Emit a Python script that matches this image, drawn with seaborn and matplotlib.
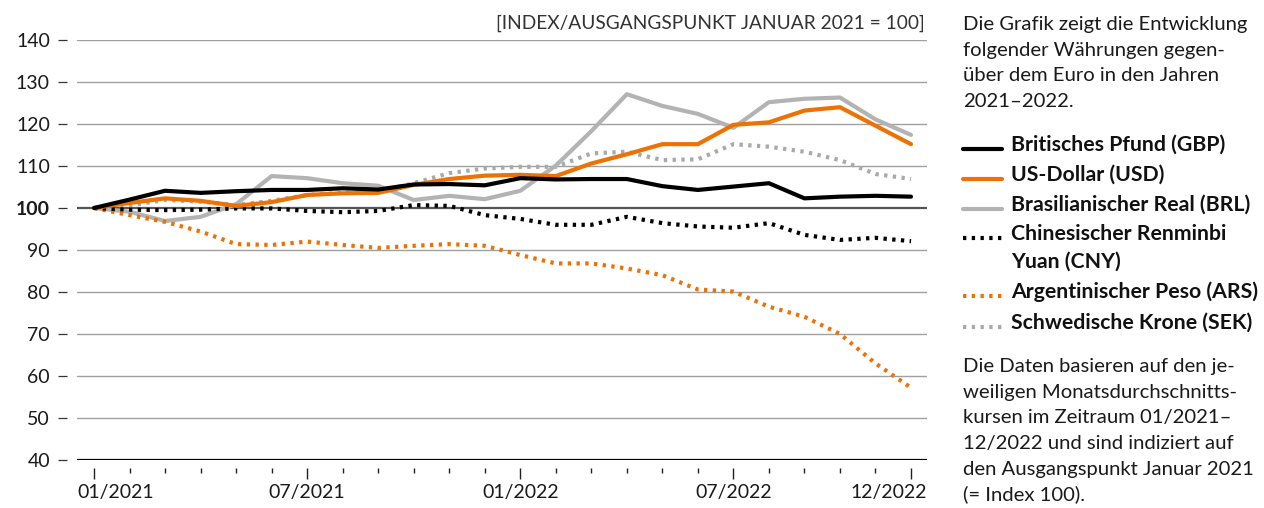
import numpy as np
import pandas as pd
import matplotlib
matplotlib.use('Agg')
import matplotlib.pyplot as plt
import seaborn as sns
from matplotlib.lines import Line2D

# data (index, Jan 2021 = 100)
months = list(range(24))
gbp = [100, 102.0, 104.1, 103.6, 104.0, 104.3, 104.3, 104.7, 104.4, 105.6, 105.7, 105.4,
       107.1, 106.8, 106.9, 106.9, 105.2, 104.3, 105.1, 105.9, 102.3, 102.7, 102.9, 102.7]
usd = [100, 101.2, 102.3, 101.7, 100.5, 101.4, 103.1, 103.5, 103.6, 105.5, 106.9, 107.7,
       107.9, 107.6, 110.6, 112.8, 115.2, 115.2, 119.8, 120.4, 123.2, 124.0, 119.6, 115.2]
brl = [100, 99.1, 96.9, 97.9, 100.9, 107.6, 107.1, 105.9, 105.3, 101.9, 102.9, 102.1,
       104.1, 110.1, 118.3, 127.1, 124.3, 122.4, 119.1, 125.2, 126.0, 126.3, 121.1, 117.4]
cny = [100, 99.6, 99.5, 99.6, 99.9, 99.9, 99.3, 99.0, 99.3, 100.7, 100.5, 98.3,
       97.4, 96.0, 96.0, 97.9, 96.4, 95.6, 95.3, 96.4, 93.6, 92.4, 92.9, 92.1]
ars = [100, 98.3, 96.7, 94.4, 91.4, 91.2, 92.0, 91.2, 90.5, 91.0, 91.4, 91.0,
       88.8, 86.8, 86.8, 85.6, 84.0, 80.6, 80.1, 76.5, 74.1, 70.0, 63.0, 57.2]
sek = [100, 100.6, 101.9, 101.5, 100.7, 101.7, 103.1, 103.6, 103.9, 105.9, 108.3, 109.4,
       109.8, 109.8, 113.0, 113.4, 111.4, 111.6, 115.2, 114.6, 113.4, 111.4, 108.1, 106.9]

names = ['Britisches Pfund (GBP)', 'US-Dollar (USD)', 'Brasilianischer Real (BRL)',
         'Chinesischer Renminbi\nYuan (CNY)', 'Argentinischer Peso (ARS)', 'Schwedische Krone (SEK)']
series = [gbp, usd, brl, cny, ars, sek]
x_labels = ['01/2021', '07/2021', '01/2022', '07/2022', '12/2022']
x_label_pos = [0, 6, 12, 18, 23]
y_ticks = [40, 50, 60, 70, 80, 90, 100, 110, 120, 130, 140]

ORANGE = '#ED7203'
colors = ['#000000', ORANGE, '#B3B3B3', '#000000', ORANGE, '#A9A9A9']
dotted = (0, (0.8, 1.3))
styles = ['-', '-', '-', dotted, dotted, dotted]

sns.set_style('white')
plt.rcParams['font.family'] = ['Lato', 'DejaVu Sans']

fig = plt.figure(figsize=(12.64, 5.08), dpi=100)
ax = fig.add_axes([77 / 1264, 1 - 460 / 508, 850 / 1264, 420 / 508])

df = pd.DataFrame({'month': months})
for n, s in zip(names, series):
    df[n] = s

# gridlines
for v in y_ticks:
    if v == 100:
        ax.axhline(v, color='#555555', lw=1.6, zorder=1)
    elif v == 40:
        ax.axhline(v, color='#000000', lw=1.6, zorder=1)
    else:
        ax.axhline(v, color='#A0A0A0', lw=1.0, zorder=1)

# draw order: grey ones below, GBP on top
order = [5, 2, 4, 3, 1, 0]
for i in order:
    sns.lineplot(data=df, x='month', y=names[i], ax=ax, color=colors[i], linewidth=3.0,
                 linestyle=styles[i], zorder=3 + order.index(i))

ax.set_xlim(-0.48, 23.45)
ax.set_ylim(40, 140)
ax.set_xlabel('')
ax.set_ylabel('')
for sp in ax.spines.values():
    sp.set_visible(False)
ax.spines['left'].set_position(('outward', 7.2))
ax.spines['bottom'].set_position(('outward', 5.8))

ax.set_yticks(y_ticks, [str(v) for v in y_ticks])
for lab in ax.get_yticklabels():
    if lab.get_text() == '100':
        lab.set_fontweight('bold')
ax.tick_params(axis='y', left=True, length=6.5, width=0.9, color='#333333', pad=5.8,
               labelsize=14, labelcolor='#1a1a1a')

ax.set_xticks(x_label_pos, [''] * len(x_label_pos))
ax.set_xticks([m for m in months if m not in x_label_pos], minor=True)
ax.tick_params(axis='x', which='major', bottom=True, length=7.9, width=1.0, color='#222222')
ax.tick_params(axis='x', which='minor', bottom=True, length=3.6, width=1.0, color='#222222')

for pos, lab in zip(x_label_pos, x_labels):
    if pos == 0:
        ax.text(-0.48, -0.057, lab, transform=ax.get_xaxis_transform(), ha='left', va='top',
                fontsize=14, color='#1a1a1a')
    elif pos == 23:
        ax.text(23.45, -0.057, lab, transform=ax.get_xaxis_transform(), ha='right', va='top',
                fontsize=14, color='#1a1a1a')
    else:
        ax.text(pos, -0.057, lab, transform=ax.get_xaxis_transform(), ha='center', va='top',
                fontsize=14, color='#1a1a1a')

fig.text(925 / 1264, 1 - 29 / 508, '[INDEX/AUSGANGSPUNKT JANUAR 2021 = 100]', ha='right',
         va='baseline', fontsize=13.8, color='#333333')


def py(p):
    return 1 - p / 508


tx = 963 / 1264
para1 = ['Die Grafik zeigt die Entwicklung', 'folgender Währungen gegen-',
         'über dem Euro in den Jahren', '2021–2022.']
for k, line in enumerate(para1):
    fig.text(tx, py(30 + 25.7 * k), line, ha='left', va='baseline', fontsize=14.6, color='#1a1a1a')

para2 = ['Die Daten basieren auf den je-', 'weiligen Monatsdurchschnitts-',
         'kursen im Zeitraum 01/2021–', '12/2022 und sind indiziert auf',
         'den Ausgangspunkt Januar 2021', '(= Index 100).']
for k, line in enumerate(para2):
    fig.text(tx, py(372 + 25.7 * k), line, ha='left', va='baseline', fontsize=14.6, color='#1a1a1a')

# legend
leg_base = [151, 181, 211, 240, 298, 329]
for i in range(6):
    b = leg_base[i]
    fig.add_artist(Line2D([963 / 1264, 1002 / 1264], [py(b - 2), py(b - 2)], color=colors[i],
                          linewidth=3.0, linestyle=styles[i]))
    for k, part in enumerate(names[i].split('\n')):
        fig.text(1011 / 1264, py(b + 28 * k), part, ha='left', va='baseline', fontsize=15.3,
                 fontweight='bold', color='#111111')

fig.savefig('out.png', dpi=100)
